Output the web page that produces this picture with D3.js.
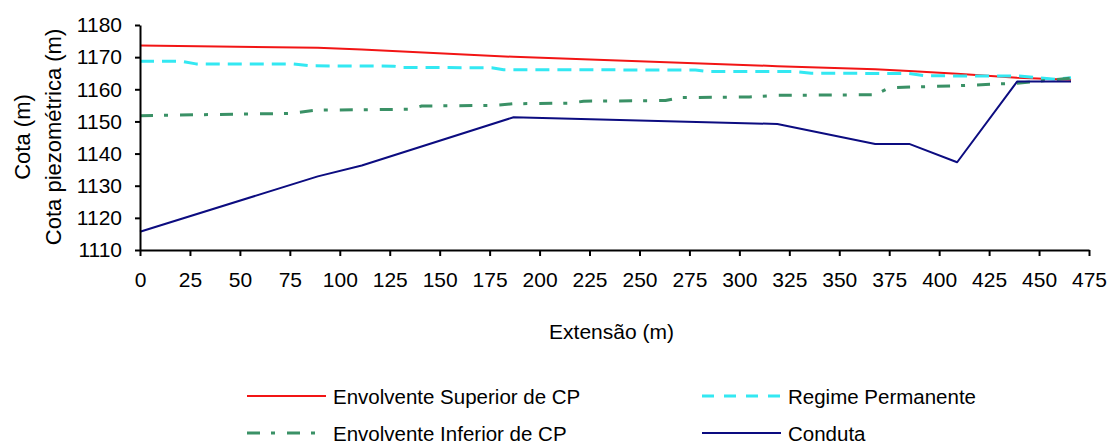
<!DOCTYPE html>
<html lang="pt">
<head>
  <meta charset="UTF-8">
  <title>Cota piezométrica</title>
  <script src="https://d3js.org/d3.v7.min.js"></script>
  <style>
    body {
      margin: 0;
      background: #fff;
      font-family: "Liberation Sans", Arial, sans-serif;
    }
    #chart { display: block; }
    .axis path, .axis line { stroke: #000; stroke-width: 2px; }
    .axis text { font-size: 21px; fill: #000; font-family: "Liberation Sans", Arial, sans-serif; }
    .title { font-size: 21px; fill: #000; }
    .legend text { font-size: 20.5px; fill: #000; }
  </style>
</head>
<body>
  <svg id="chart" width="1110" height="444"></svg>

  <script>
    // tick values
    const xTicks = [0, 25, 50, 75, 100, 125, 150, 175, 200, 225, 250, 275, 300, 325, 350, 375, 400, 425, 450, 475];
    const yTicks = [1110, 1120, 1130, 1140, 1150, 1160, 1170, 1180];

    // series [extensão, cota]
    const envSuperior = [[0, 1173.6], [89, 1172.9], [111, 1172.4], [187, 1170.1], [319, 1167.2],
      [368, 1166.2], [385, 1165.7], [409, 1164.8], [439, 1163.6], [466, 1163.0]];
    const regimePermanente = [[0, 1168.7], [21, 1168.7], [28, 1167.9], [76, 1167.9], [85, 1167.3],
      [127, 1167.2], [131, 1166.8], [176, 1166.7], [182, 1166.1], [278, 1166.0], [285, 1165.5],
      [328, 1165.5], [336, 1165.0], [385, 1164.9], [393, 1164.2], [440, 1164.1], [458, 1163.1], [466, 1163.6]];
    const envInferior = [[0, 1151.8], [75, 1152.5], [88, 1153.5], [135, 1153.8], [141, 1154.8],
      [178, 1155.0], [187, 1155.5], [216, 1155.7], [222, 1156.3], [263, 1156.5], [270, 1157.4],
      [305, 1157.6], [318, 1158.1], [368, 1158.3], [375, 1160.5], [409, 1161.1], [439, 1161.9], [466, 1163.5]];
    const conduta = [[0, 1115.7], [89, 1132.9], [111, 1136.3], [187, 1151.3], [319, 1149.2],
      [368, 1143.0], [385, 1143.0], [409, 1137.3], [439, 1162.4], [466, 1162.4]];

    const seriesNames = ["Envolvente Superior de CP", "Regime Permanente", "Envolvente Inferior de CP", "Conduta"];
    const seriesData = [envSuperior, regimePermanente, envInferior, conduta];

    const styles = [
      { color: "#f21515", width: 2, dash: null },
      { color: "#33e8f2", width: 3, dash: "14,8" },
      { color: "#3a9166", width: 3, dash: "13,11,4,12" },
      { color: "#0c0c80", width: 2, dash: null }
    ];

    const svg = d3.select("#chart");

    const x = d3.scaleLinear().domain([0, 475]).range([140, 1089]);
    const y = d3.scaleLinear().domain([1110, 1180]).range([250, 25]);

    // lines
    const line = d3.line().x(d => x(d[0])).y(d => y(d[1]));
    seriesData.forEach((s, i) => {
      svg.append("path")
        .datum(s)
        .attr("fill", "none")
        .attr("stroke", styles[i].color)
        .attr("stroke-width", styles[i].width)
        .attr("stroke-dasharray", styles[i].dash)
        .attr("stroke-linejoin", "round")
        .attr("d", line);
    });

    // axes
    svg.append("g")
      .attr("class", "axis")
      .attr("transform", `translate(0,${y(1110)})`)
      .call(d3.axisBottom(x).tickValues(xTicks).tickFormat(d3.format("d"))
        .tickSizeInner(6).tickSizeOuter(0).tickPadding(16));

    svg.append("g")
      .attr("class", "axis")
      .attr("transform", `translate(${x(0)},0)`)
      .call(d3.axisLeft(y).tickValues(yTicks).tickFormat(d3.format("d"))
        .tickSizeInner(5).tickSizeOuter(0).tickPadding(13));

    // axis titles
    svg.append("text")
      .attr("class", "title")
      .attr("text-anchor", "middle")
      .attr("x", (x(0) + x(475)) / 2 - 3)
      .attr("y", 339)
      .text("Extensão (m)");

    const yTitle = svg.append("text")
      .attr("class", "title")
      .attr("text-anchor", "middle")
      .attr("transform", "rotate(-90)")
      .style("font-size", "22px");
    yTitle.append("tspan").attr("x", -137).attr("y", 30).text("Cota (m)");
    yTitle.append("tspan").attr("x", -137).attr("y", 61).text("Cota piezométrica (m)");

    // legend
    const legendPos = [[247, 396], [702, 396], [247, 433], [702, 433]];
    const legend = svg.selectAll(".legend")
      .data(seriesNames)
      .enter()
      .append("g")
      .attr("class", "legend")
      .attr("transform", (d, i) => `translate(${legendPos[i][0]},${legendPos[i][1]})`);

    legend.append("line")
      .attr("x1", 0)
      .attr("x2", 79)
      .attr("y1", 0)
      .attr("y2", 0)
      .attr("stroke", (d, i) => styles[i].color)
      .attr("stroke-width", (d, i) => styles[i].width)
      .attr("stroke-dasharray", (d, i) => i === 1 ? "12,10" : styles[i].dash);

    legend.append("text")
      .attr("x", 86)
      .attr("y", 8)
      .text(d => d);
  </script>
</body>
</html>
